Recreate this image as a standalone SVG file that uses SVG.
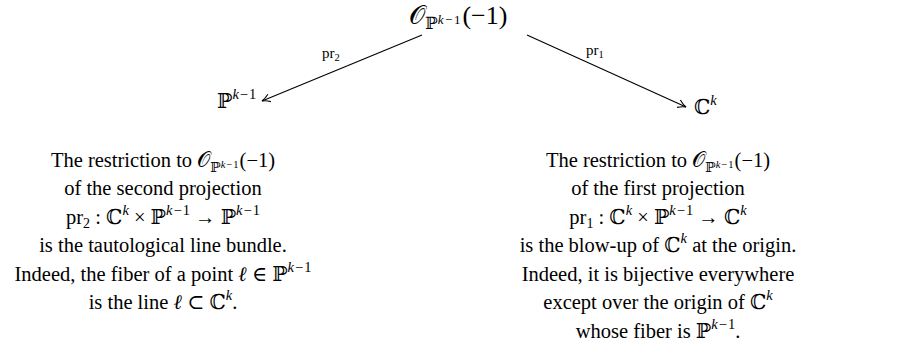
<svg xmlns="http://www.w3.org/2000/svg" width="911" height="364" viewBox="0 0 911 364">
<style>
text{font-family:"Liberation Serif","DejaVu Serif",serif;font-size:20.5px;fill:#000}
.c{text-anchor:middle}
.i{font-style:italic}
.sup{font-size:14.5px}
.sub{font-size:14px}
.ss{font-size:10.5px}
.lbl{font-size:15px}
.big{font-size:26px}
.bsub{font-size:17px}
.bss{font-size:13px}
.edge{stroke:#000;stroke-width:1.1;fill:none}
</style>
<defs>
<marker id="arr" viewBox="0 0 10 10" refX="9" refY="5" markerWidth="10" markerHeight="10" markerUnits="userSpaceOnUse" orient="auto">
<path d="M1,1 Q5,4 9,5 Q5,6 1,9" fill="none" stroke="#000" stroke-width="1.1"/>
</marker>
</defs>
<g id="node-O">
<text class="big" x="409" y="24">𝒪<tspan class="bsub" dy="5">ℙ</tspan><tspan class="bss i" dy="-5">k</tspan><tspan class="bss" dx="1.5">−</tspan><tspan class="bss" dx="1.5">1</tspan><tspan class="big" dx="2">(−1)</tspan></text>
</g>
<g id="node-P">
<text x="217" y="108">ℙ<tspan class="sup i" dy="-9">k</tspan><tspan class="sup" dx="1">−</tspan><tspan class="sup" dx="1">1</tspan></text>
</g>
<g id="node-C">
<text x="694" y="114">ℂ<tspan class="sup i" dy="-9">k</tspan></text>
</g>
<g id="connectors">
<path class="edge" d="M422,35 L262,101" marker-end="url(#arr)"/>
<text class="lbl" x="322" y="58">pr<tspan class="ss" dy="3">2</tspan></text>
<path class="edge" d="M527,35 L686,107" marker-end="url(#arr)"/>
<text class="lbl" x="586" y="55">pr<tspan class="ss" dy="3">1</tspan></text>
</g>
<g id="text-left">
<text class="c" x="163" y="167">The restriction to 𝒪<tspan class="sub" dy="5">ℙ</tspan><tspan class="ss i" dy="-4">k</tspan><tspan class="ss" dx="1">−</tspan><tspan class="ss" dx="1">1</tspan><tspan dy="-1" dx="1">(−1)</tspan></text>
<text class="c" x="163" y="195">of the second projection</text>
<text class="c" x="163" y="224">pr<tspan class="sub" dy="4">2</tspan><tspan dy="-4"> : ℂ</tspan><tspan class="sup i" dy="-9">k</tspan><tspan dy="9"> × ℙ</tspan><tspan class="sup i" dy="-9">k</tspan><tspan class="sup" dx="1">−</tspan><tspan class="sup" dx="1">1</tspan><tspan dy="9"> → ℙ</tspan><tspan class="sup i" dy="-9">k</tspan><tspan class="sup" dx="1">−</tspan><tspan class="sup" dx="1">1</tspan></text>
<text class="c" x="163" y="252">is the tautological line bundle.</text>
<text class="c" x="163" y="281">Indeed, the fiber of a point <tspan class="i">ℓ</tspan> ∈ ℙ<tspan class="sup i" dy="-9">k</tspan><tspan class="sup" dx="1">−</tspan><tspan class="sup" dx="1">1</tspan></text>
<text class="c" x="163" y="309">is the line <tspan class="i">ℓ</tspan> ⊂ ℂ<tspan class="sup i" dy="-9">k</tspan><tspan dy="9">.</tspan></text>
</g>
<g id="text-right">
<text class="c" x="658" y="167">The restriction to 𝒪<tspan class="sub" dy="5">ℙ</tspan><tspan class="ss i" dy="-4">k</tspan><tspan class="ss" dx="1">−</tspan><tspan class="ss" dx="1">1</tspan><tspan dy="-1" dx="1">(−1)</tspan></text>
<text class="c" x="658" y="195">of the first projection</text>
<text class="c" x="658" y="224">pr<tspan class="sub" dy="4">1</tspan><tspan dy="-4"> : ℂ</tspan><tspan class="sup i" dy="-9">k</tspan><tspan dy="9"> × ℙ</tspan><tspan class="sup i" dy="-9">k</tspan><tspan class="sup" dx="1">−</tspan><tspan class="sup" dx="1">1</tspan><tspan dy="9"> → ℂ</tspan><tspan class="sup i" dy="-9">k</tspan></text>
<text class="c" x="658" y="252">is the blow-up of ℂ<tspan class="sup i" dy="-9">k</tspan><tspan dy="9"> at the origin.</tspan></text>
<text class="c" x="658" y="281">Indeed, it is bijective everywhere</text>
<text class="c" x="658" y="309">except over the origin of ℂ<tspan class="sup i" dy="-9">k</tspan></text>
<text class="c" x="658" y="338">whose fiber is ℙ<tspan class="sup i" dy="-9">k</tspan><tspan class="sup" dx="1">−</tspan><tspan class="sup" dx="1">1</tspan><tspan dy="9">.</tspan></text>
</g>
</svg>
